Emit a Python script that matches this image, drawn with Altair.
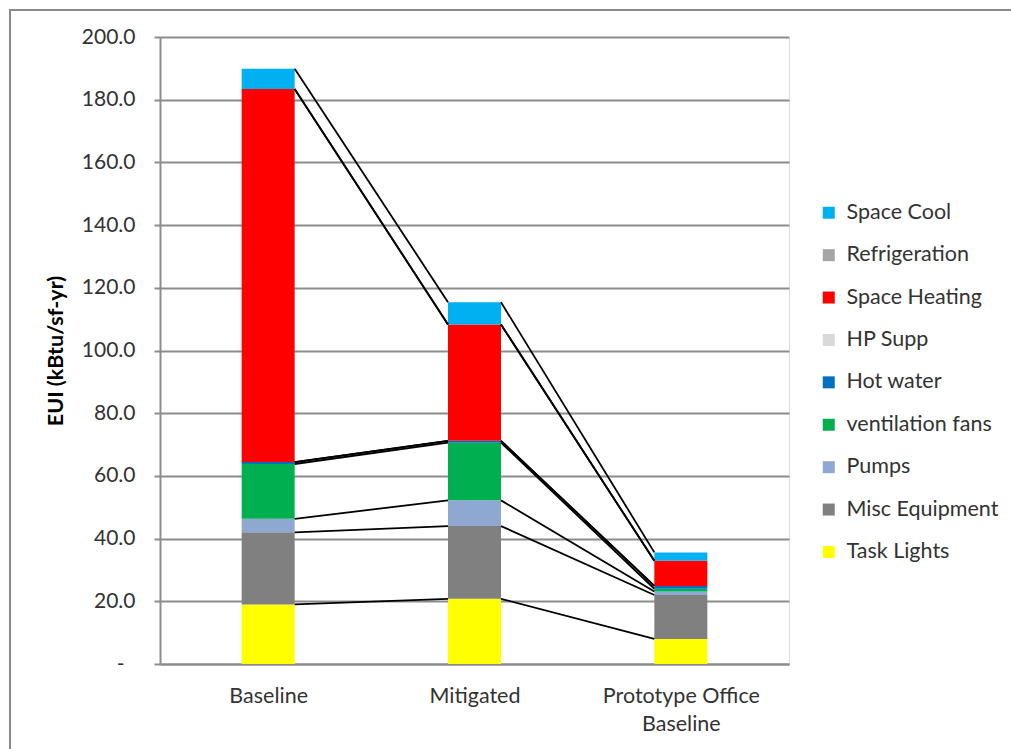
import json
import altair as alt
import pandas as pd

# ---------------- data ----------------
categories = ["Baseline", "Mitigated", "Prototype Office Baseline"]
x_tick_labels = ["Baseline", "Mitigated", "Prototype Office\nBaseline"]

# stack order, bottom -> top
series = ["Task Lights", "Misc Equipment", "Pumps", "ventilation fans",
          "Hot water", "HP Supp", "Space Heating", "Refrigeration", "Space Cool"]

task_lights = [19.0, 20.8, 8.0]
misc_equipment = [23.0, 23.2, 14.0]
pumps = [4.3, 8.2, 1.1]
ventilation_fans = [17.5, 18.4, 0.9]
hot_water = [0.6, 0.6, 0.9]
hp_supp = [0.0, 0.0, 0.0]
space_heating = [119.0, 37.1, 8.0]
refrigeration = [0.0, 0.0, 0.0]
space_cool = [6.5, 7.1, 2.7]

values = {
    "Task Lights": task_lights,
    "Misc Equipment": misc_equipment,
    "Pumps": pumps,
    "ventilation fans": ventilation_fans,
    "Hot water": hot_water,
    "HP Supp": hp_supp,
    "Space Heating": space_heating,
    "Refrigeration": refrigeration,
    "Space Cool": space_cool,
}

series_colors = {
    "Space Cool": "#00B0F0",
    "Refrigeration": "#A5A5A5",
    "Space Heating": "#FF0000",
    "HP Supp": "#D9D9D9",
    "Hot water": "#0070C0",
    "ventilation fans": "#00B050",
    "Pumps": "#8FA8D2",
    "Misc Equipment": "#808080",
    "Task Lights": "#FFFF00",
}
legend_order = list(reversed(series))

y_ticks = list(range(0, 201, 20))

# ---------------- tables ----------------
bar_rows = []
tops = {s: [] for s in series}
for ci, cat in enumerate(categories):
    base = 0.0
    for s in series:
        v = values[s][ci]
        bar_rows.append(dict(category=cat, idx=ci, series=s, y0=base, y1=base + v))
        base += v
        tops[s].append(base)
bars_df = pd.DataFrame(bar_rows)

line_rows = []
for s in series:
    for ci in range(len(categories) - 1):
        line_rows.append(dict(series=s, idx=ci, idx2=ci + 1,
                              y0=tops[s][ci], y1=tops[s][ci + 1]))
lines_df = pd.DataFrame(line_rows)

# ---------------- styling ----------------
FONT = "Lato"
TEXT = "#333333"
GRID = "#8C8C8C"
BAR_W = 53

x_scale = alt.Scale(domain=[-0.5, len(categories) - 0.5], nice=False, zero=False)
y_scale = alt.Scale(domain=[0, 200], nice=False)

label_expr_x = f"split({json.dumps(x_tick_labels)}[datum.value], '\\n')"

x_axis = alt.Axis(values=list(range(len(categories))), labelExpr=label_expr_x,
                  grid=False, ticks=False, domainColor=GRID, domainWidth=2,
                  labelFontSize=21.5, labelColor=TEXT, labelPadding=21,
                  labelLineHeight=28, labelFont=FONT, title=None)
y_axis = alt.Axis(values=y_ticks,
                  labelExpr="datum.value == 0 ? '-' : format(datum.value, '.1f')",
                  grid=True, gridColor=GRID, gridWidth=2,
                  domainColor=GRID, domainWidth=2,
                  ticks=True, tickColor=GRID, tickWidth=2, tickSize=6,
                  labelFontSize=21, labelColor=TEXT,
                  labelPadding={"condition": {"test": "datum.value == 0", "value": 30},
                                "value": 19},
                  labelFont=FONT,
                  title="EUI (kBtu/sf-yr)", titleFontSize=21.5, titleFontWeight="bold",
                  titleColor="#000000", titleFont=FONT, titlePadding=14)

frame = alt.Chart(pd.DataFrame({"f": [0]})).mark_rect(
    fillOpacity=0, stroke="#8A8A8A", strokeWidth=2
).encode(
    x=alt.value(-150), x2=alt.value(870), y=alt.value(-27), y2=alt.value(730)
)

bars = alt.Chart(bars_df).mark_bar(size=BAR_W).encode(
    x=alt.X("idx:Q", scale=x_scale, axis=x_axis),
    y=alt.Y("y0:Q", scale=y_scale, axis=y_axis),
    y2="y1:Q",
    color=alt.Color(
        "series:N",
        scale=alt.Scale(domain=legend_order,
                        range=[series_colors[s] for s in legend_order]),
        legend=alt.Legend(title=None, orient="none", legendX=658, legendY=165,
                          symbolType="square", symbolSize=144, symbolStrokeWidth=0,
                          labelFontSize=21.5, labelFont=FONT, labelColor=TEXT,
                          rowPadding=19.4, labelOffset=7),
    ),
)

rules = alt.Chart(lines_df).mark_rule(
    color="black", strokeWidth=1.8, xOffset=BAR_W / 2, x2Offset=-BAR_W / 2
).encode(
    x=alt.X("idx:Q", scale=x_scale, axis=x_axis),
    x2="idx2:Q",
    y=alt.Y("y0:Q", scale=y_scale, axis=y_axis),
    y2="y1:Q",
)

chart = alt.layer(frame, bars, rules).properties(
    width=629, height=627,
    padding={"left": 160, "top": 37, "right": 222, "bottom": 85},
    autosize=alt.AutoSizeParams(type="none"),
    background="white",
).configure_view(stroke=None).configure(font=FONT)

chart.save("out.html", embed_options={"renderer": "svg", "actions": False})
